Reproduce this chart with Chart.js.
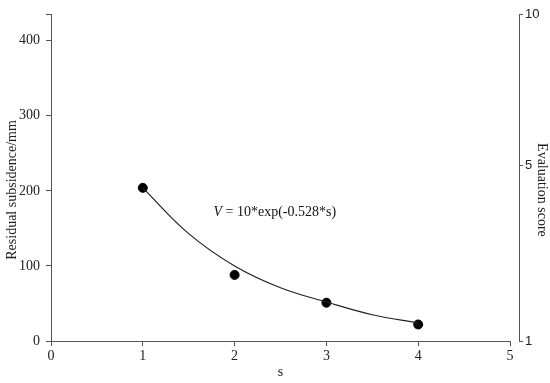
<!DOCTYPE html>
<html>
<head>
<meta charset="utf-8">
<script src="https://cdn.jsdelivr.net/npm/chart.js@4.4.1/dist/chart.umd.min.js"></script>
<style>
  html, body { margin: 0; padding: 0; background: #fff; }
  #wrap { width: 550px; height: 383px; }
</style>
</head>
<body>
<div id="wrap"><canvas id="chart"></canvas></div>
<script>
// measured points
const sValues = [1, 2, 3, 4];
const subsidence = [204, 88, 51, 22];

// fitted curve
const curveS = [1, 1.5, 2, 2.5, 3, 3.5, 4];
const curveV = [204, 143, 100, 71, 52, 35, 24];

const xTicks = [0, 1, 2, 3, 4, 5];
const leftTicks = [0, 100, 200, 300, 400];
const leftMax = 435;

// right axis: score labels and where they sit on the left scale
const scoreLabels = ['1', '5', '10'];
const scoreTickAt = [0, 234, 435];

const fitText = ['V', ' = 10*exp(-0.528*s)'];
const fitAt = { s: 1.77, v: 172 };

const serif = 'Liberation Serif';
const axisColor = '#555';
const pad = '\u00a0'.repeat(7); // titles sit a bit below the axis middle

const fitLabel = {
    id: 'fitLabel',
    afterLayout(chart) {
        // right axis stands a little off the plot edge
        chart.scales.y2.left += 9;
    },
    afterDatasetsDraw(chart) {
        const ctx = chart.ctx;
        const x = chart.scales.x.getPixelForValue(fitAt.s);
        const y = chart.scales.y.getPixelForValue(fitAt.v);
        ctx.save();
        ctx.fillStyle = '#111';
        ctx.textBaseline = 'middle';
        ctx.textAlign = 'left';
        ctx.font = 'italic 14px "' + serif + '"';
        ctx.fillText(fitText[0], x, y);
        const w = ctx.measureText(fitText[0]).width;
        ctx.font = '14px "' + serif + '"';
        ctx.fillText(fitText[1], x + w, y);
        ctx.restore();
    }
};

const ctx = document.getElementById('chart').getContext('2d');
const chart = new Chart(ctx, {
    type: 'scatter',
    data: {
        datasets: [{
            label: 'fit',
            type: 'line',
            data: curveS.map((s, i) => ({ x: s, y: curveV[i] })),
            borderColor: '#222',
            borderWidth: 1.2,
            pointRadius: 0,
            tension: 0.4,
            fill: false,
            yAxisID: 'y'
        }, {
            label: 'Residual subsidence',
            data: sValues.map((s, i) => ({ x: s, y: subsidence[i] })),
            backgroundColor: '#000',
            borderColor: '#000',
            pointRadius: 4.5,
            pointHoverRadius: 4.5,
            yAxisID: 'y'
        }]
    },
    options: {
        responsive: true,
        maintainAspectRatio: false,
        animation: false,
        layout: { padding: { top: 10, left: 0, right: 0, bottom: 0 } },
        plugins: {
            legend: { display: false },
            tooltip: { enabled: false }
        },
        scales: {
            x: {
                type: 'linear',
                position: 'bottom',
                min: 0,
                max: 5,
                afterBuildTicks: function(scale) {
                    scale.ticks = xTicks.map(v => ({ value: v }));
                },
                afterFit: function(scale) { scale.height = 42; },
                grid: { drawOnChartArea: false, color: axisColor, tickLength: 5 },
                border: { color: axisColor, width: 1 },
                ticks: { color: '#222', font: { family: serif, size: 14 }, padding: 2, maxRotation: 0 },
                title: { display: true, text: 's', color: '#222', font: { family: serif, size: 14 }, padding: { top: 0, bottom: 2 } }
            },
            y: {
                type: 'linear',
                position: 'left',
                min: 0,
                max: leftMax,
                afterBuildTicks: function(scale) {
                    scale.ticks = leftTicks.concat([leftMax]).map(v => ({ value: v }));
                },
                afterFit: function(scale) { scale.width = 51; },
                grid: { drawOnChartArea: false, color: axisColor, tickLength: 5 },
                border: { color: axisColor, width: 1 },
                ticks: {
                    color: '#222',
                    font: { family: serif, size: 14 },
                    padding: 6,
                    autoSkip: false,
                    callback: function(value) {
                        return leftTicks.includes(value) ? String(value) : '';
                    }
                },
                title: { display: true, text: 'Residual subsidence/mm' + pad, color: '#222', font: { family: serif, size: 14 }, padding: { top: 4, bottom: 0 } }
            },
            y2: {
                type: 'linear',
                position: 'right',
                min: 0,
                max: leftMax,
                afterBuildTicks: function(scale) {
                    scale.ticks = scoreTickAt.map(v => ({ value: v }));
                },
                afterFit: function(scale) { scale.width = 40; },
                grid: { drawOnChartArea: false, color: axisColor, tickLength: 4 },
                border: { color: axisColor, width: 1 },
                ticks: {
                    color: '#222',
                    font: { family: 'Liberation Sans', size: 13 },
                    padding: 2,
                    autoSkip: false,
                    callback: function(value, index) {
                        return scoreLabels[index];
                    }
                },
                title: { display: true, text: pad + 'Evaluation score', color: '#222', font: { family: serif, size: 14 }, padding: { top: 0, bottom: 0 } }
            }
        }
    },
    plugins: [fitLabel]
});
</script>
</body>
</html>
